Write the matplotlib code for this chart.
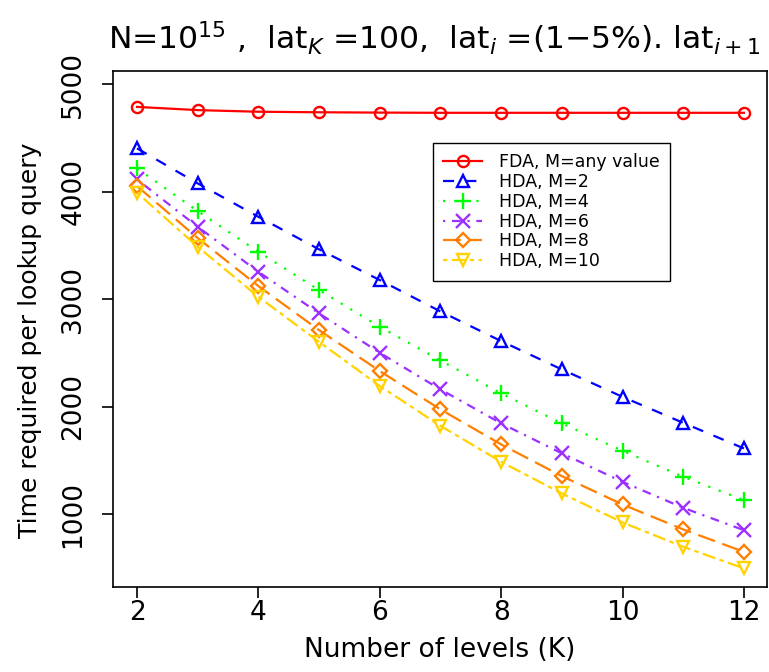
import matplotlib
matplotlib.use("Agg")
import matplotlib.pyplot as plt

# number of levels K
levels = [2, 3, 4, 5, 6, 7, 8, 9, 10, 11, 12]

fda_any = [4790, 4760, 4745, 4740, 4737, 4735, 4735, 4735, 4735, 4735, 4735]
hda_m2 = [4404, 4078, 3767, 3464, 3178, 2886, 2610, 2346, 2091, 1849, 1611]
hda_m4 = [4218, 3820, 3441, 3085, 2743, 2430, 2123, 1844, 1589, 1347, 1130]
hda_m6 = [4115, 3674, 3255, 2868, 2501, 2160, 1844, 1565, 1300, 1058, 850]
hda_m8 = [4053, 3569, 3122, 2712, 2331, 1974, 1648, 1353, 1089, 857, 648]
hda_m10 = [3991, 3488, 3022, 2603, 2192, 1821, 1486, 1192, 922, 695, 494]

labels = ["FDA, M=any value", "HDA, M=2", "HDA, M=4", "HDA, M=6",
          "HDA, M=8", "HDA, M=10"]
series = [fda_any, hda_m2, hda_m4, hda_m6, hda_m8, hda_m10]
colors = ["#FF0000", "#0000FF", "#00FF00", "#9B30FF", "#FF7F00", "#FFD200"]
markers = ["o", "^", "+", "x", "D", "v"]
msizes = [8, 9, 11, 10, 7.5, 9]
styles = ["-", (0, (5, 5)), (0, (1, 4)), (0, (1, 3, 4, 3)),
          (0, (8, 3.5)), (0, (2, 2, 6, 2))]

fig = plt.figure(figsize=(7.69, 6.72), dpi=100)
ax = fig.add_axes([0.1466, 0.126, 0.8508, 0.7688])

for ys, lab, c, m, ms, ls in zip(series, labels, colors, markers, msizes, styles):
    ax.plot(levels, ys, color=c, linestyle=ls, linewidth=1.6, marker=m,
            markersize=ms, markerfacecolor="none", markeredgecolor=c,
            markeredgewidth=1.7, label=lab)

ax.set_xlim(1.6, 12.38)
ax.set_ylim(318, 5127)
ax.set_xticks([2, 4, 6, 8, 10, 12])
ax.set_yticks([1000, 2000, 3000, 4000, 5000])
ax.tick_params(axis="both", direction="out", length=8, width=1.2,
               labelsize=19)
ax.tick_params(axis="x", pad=1)
ax.tick_params(axis="y", pad=11)
for lbl in ax.get_yticklabels():
    lbl.set_rotation(90)
    lbl.set_va("center")
for sp in ax.spines.values():
    sp.set_linewidth(1.2)

ax.set_xlabel("Number of levels (K)", fontsize=19, labelpad=8)
ax.set_ylabel("Time required per lookup query", fontsize=18, labelpad=4)
ax.yaxis.set_label_coords(30 / 769, 0.5, transform=fig.transFigure)
ax.yaxis.label.set_va("center")
ax.yaxis.label.set_position((30 / 769, 1 - 340 / 672))

fig.text(108 / 769, 1 - 38 / 672,
         r"N=$10^{15}$ ,  lat$_K$ =100,  lat$_i$ =(1$-$5%). lat$_{i+1}$",
         fontsize=22.6, ha="left", va="center")

leg = ax.legend(loc="upper left", bbox_to_anchor=(433 / 769, 1 - 143 / 672),
                bbox_transform=fig.transFigure, fontsize=12.5, fancybox=False,
                framealpha=1, edgecolor="black", borderaxespad=0,
                handlelength=2.2, handletextpad=1.0, labelspacing=0.1,
                borderpad=0.6)
leg.get_frame().set_linewidth(1.0)

fig.savefig("out.png", dpi=100)
